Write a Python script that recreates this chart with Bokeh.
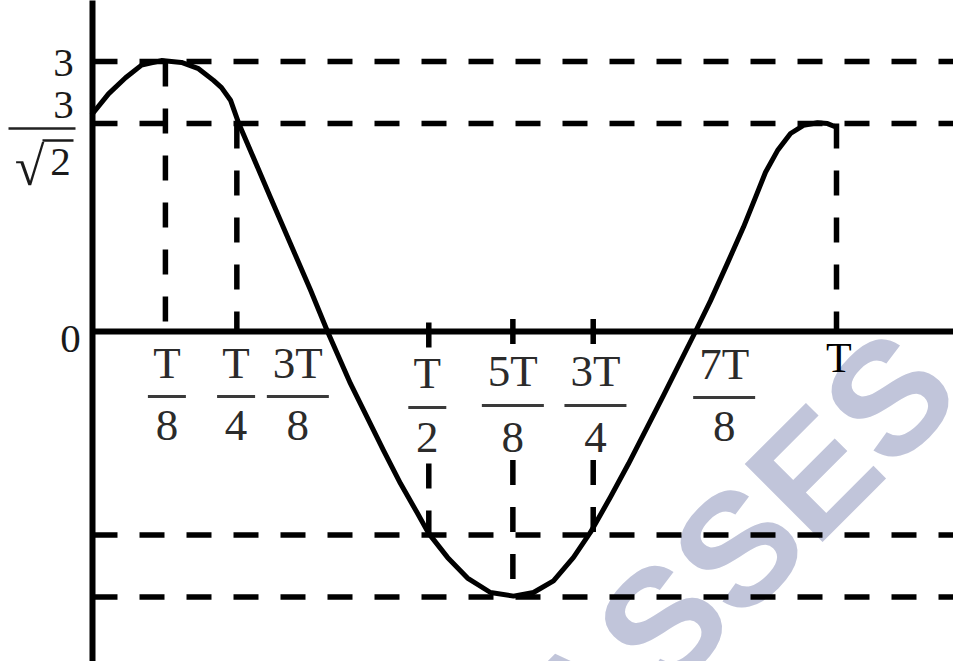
import math
from bokeh.plotting import figure
from bokeh.models import ColumnDataSource, Range1d
from bokeh.core.properties import value
from bokeh.embed import file_html
from bokeh.resources import INLINE

# ---------------- data (values as drawn; t in units of T) ----------------
curve_t = [0.000, 0.0215, 0.0444, 0.0659, 0.0927, 0.1196, 0.1425, 0.1626, 0.1734, 0.1855,
           0.1962, 0.2392, 0.2930, 0.3159, 0.3468, 0.3911, 0.4140, 0.4368, 0.4516, 0.4772,
           0.5040, 0.5349, 0.5659, 0.5927, 0.6196, 0.6465, 0.6694, 0.6962, 0.7204, 0.7675,
           0.8105, 0.8306, 0.8535, 0.8750, 0.8911, 0.9046, 0.9207, 0.9382, 0.9556, 0.9745,
           0.9879, 1.0000]
curve_y = [2.42, 2.64, 2.82, 2.96, 3.01, 2.99, 2.92, 2.79, 2.71, 2.57,
           2.32, 1.49, 0.46, 0.00, -0.58, -1.32, -1.69, -2.02, -2.24, -2.51,
           -2.74, -2.90, -2.94, -2.90, -2.77, -2.51, -2.23, -1.84, -1.47, -0.71,
           0.00, 0.34, 0.76, 1.16, 1.49, 1.77, 2.01, 2.20, 2.29, 2.32,
           2.31, 2.27]

level_y = [3.0, 2.31, -2.26, -2.95]          # 3, 3/sqrt2, -3/sqrt2, -3 (as drawn)
level_t_end = 1.2

vline_t = [0.098, 0.194, 0.452, 0.565, 0.673, 1.0]
vline_top = [3.0, 2.31, 0.10, 0.14, 0.14, 2.31]
vline_bottom = [0.0, 0.0, -2.26, -2.95, -2.26, 0.0]

tick_t = [0.100, 0.193, 0.276, 0.450, 0.565, 0.676, 0.849]
tick_num = ["T", "T", "3T", "T", "5T", "3T", "7T"]
tick_den = ["8", "4", "8", "2", "8", "4", "8"]
period_t = 1.003
period_label = "T"

# ---------------- layout helpers (reference pixels -> data) ----------------
PX_T, PX_U, X0, Y0 = 744.0, 90.0, 92.0, 331.0
def lx(px): return (px - X0) / PX_T
def ly(py): return (Y0 - py) / PX_U
def dpx(d): return d / PX_T

p = figure(width=953, height=661, x_range=Range1d(lx(0), lx(953)),
           y_range=Range1d(ly(661), ly(0)), output_backend="svg",
           toolbar_location=None, min_border=0,
           x_axis_location=None, y_axis_location=None)
p.grid.visible = False
p.outline_line_color = None
p.background_fill_color = "white"
p.border_fill_color = "white"

# watermark
p.text(x=[lx(659)], y=[ly(626)], text=["CLASSES"], angle=math.pi / 4,
       text_font=value("Liberation Sans"), text_font_style="bold",
       text_font_size="160px", text_color="#c1c5da",
       text_align="center", text_baseline="middle")

# horizontal dashed levels
p.segment(x0=[0.0] * len(level_y), y0=level_y, x1=[level_t_end] * len(level_y),
          y1=level_y, line_color="black", line_width=5.5, line_dash="25 22")
# vertical dashed lines
p.segment(x0=vline_t, y0=vline_top, x1=vline_t, y1=vline_bottom,
          line_color="black", line_width=5.5, line_dash="25 22")

# fraction tick labels (white backing masks the dashes under the lower labels)
num_py = [362, 362, 362, 372, 370, 370, 363]
bar_py = [396, 396, 396, 407, 405, 405, 397]
den_py = [425, 425, 425, 437, 437, 437, 426]
half = [19 if len(s) == 1 else 31 for s in tick_num]
mask_idx = [3, 4, 5]
p.quad(left=[tick_t[i] - dpx(half[i] + 2) for i in mask_idx],
       right=[tick_t[i] + dpx(half[i] + 2) for i in mask_idx],
       top=[ly(350)] * 3, bottom=[ly(456)] * 3,
       fill_color="white", line_color=None)

# axes
p.segment(x0=[0.0], y0=[ly(-5)], x1=[0.0], y1=[ly(670)], line_color="black", line_width=6)
p.segment(x0=[0.0], y0=[0.0], x1=[level_t_end], y1=[0.0], line_color="black", line_width=6)

# curve
p.line(curve_t, curve_y, line_color="black", line_width=5, line_join="round", line_cap="round")

num_src = ColumnDataSource(dict(x=tick_t, y=[ly(v) for v in num_py], text=tick_num))
den_src = ColumnDataSource(dict(x=tick_t, y=[ly(v) for v in den_py], text=tick_den))
serif = value("Liberation Serif")
p.text(x="x", y="y", text="text", source=num_src, text_font=serif,
       text_font_size="45px", text_color="#2b2b2b", text_align="center", text_baseline="middle")
p.text(x="x", y="y", text="text", source=den_src, text_font=serif,
       text_font_size="45px", text_color="#2b2b2b", text_align="center", text_baseline="middle")
p.segment(x0=[t - dpx(h) for t, h in zip(tick_t, half)], y0=[ly(v) for v in bar_py],
          x1=[t + dpx(h) for t, h in zip(tick_t, half)], y1=[ly(v) for v in bar_py],
          line_color="#3a3a3a", line_width=3)
p.text(x=[period_t], y=[ly(357)], text=[period_label], text_font=serif,
       text_font_size="42px", text_color="black", text_align="center", text_baseline="middle")

# y labels
p.text(x=[lx(63), lx(63), lx(70)], y=[ly(62), ly(104), ly(338)], text=["3", "3", "0"],
       text_font=serif, text_font_size="41px", text_color="#1a1a1a",
       text_align="center", text_baseline="middle")
p.segment(x0=[lx(8)], y0=[ly(128)], x1=[lx(75)], y1=[ly(128)], line_color="#222222", line_width=2.5)
p.text(x=[lx(29)], y=[ly(166)], text=["√"], text_font=serif, text_font_size="54px",
       text_color="#1a1a1a", text_align="center", text_baseline="middle")
p.text(x=[lx(60)], y=[ly(161)], text=["2"], text_font=serif, text_font_size="41px",
       text_color="#1a1a1a", text_align="center", text_baseline="middle")
p.segment(x0=[lx(42)], y0=[ly(140)], x1=[lx(73)], y1=[ly(140)], line_color="#1a1a1a", line_width=2.5)

open("out.html", "w").write(file_html(p, INLINE))
